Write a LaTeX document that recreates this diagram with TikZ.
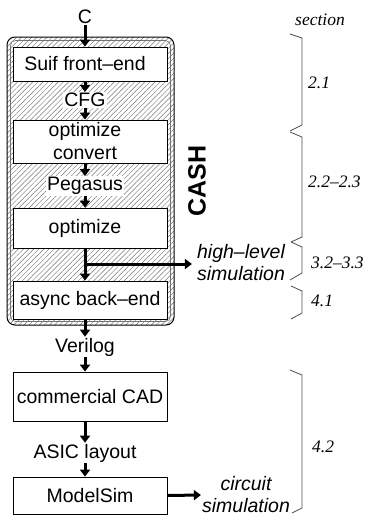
\documentclass[tikz,border=0pt]{standalone}
\usepackage{fontspec}
\setmainfont{Liberation Serif}
\setsansfont{Liberation Sans}
\usetikzlibrary{arrows.meta,patterns.meta}
\begin{document}
\begin{tikzpicture}[x=1pt,y=-1pt,
  box/.style={draw,line width=0.8pt,fill=white,minimum width=154pt,inner sep=0pt,font=\sffamily\fontsize{19.5}{23}\selectfont,align=center},
  lbl/.style={font=\sffamily\fontsize{19.5}{23}\selectfont,inner sep=1pt},
  wlbl/.style={lbl,fill=white},
  ilbl/.style={font=\sffamily\itshape\fontsize{19.5}{22}\selectfont,inner sep=1pt,align=center},
  arr/.style={line width=3pt,-{Triangle[width=10pt,length=7pt]}},
  sec/.style={font=\itshape\fontsize{17.5}{19}\selectfont,anchor=west,inner sep=0pt},
  brace/.style={line width=0.8pt,draw=black!70,line join=miter}
]
\useasboundingbox (0,0) rectangle (370,517);

% CASH enclosure
\node[draw,line width=1pt,rounded corners=8pt,minimum width=167pt,minimum height=288pt,inner sep=0pt,
      pattern={Lines[angle=45,distance=3.6pt,line width=0.45pt]},pattern color=black!55] (encl) at (90.5,181) {};
\draw[rounded corners=5pt,draw=black!55,line width=0.6pt] (10.5,40.5) rectangle (170.5,321.5);

% nodes
\node[lbl] (c) at (85,17) {C};
\node[box,minimum height=34pt] (suif) at (90,64) {\hspace*{-10pt}Suif front–end};
\node[wlbl] (cfg) at (85,100) {CFG};
\node[box,minimum height=43pt] (oc) at (90,141.5) {\hspace*{-10pt}optimize\\\hspace*{-10pt}convert};
\node[wlbl] (peg) at (85,186) {Pegasus};
\node[box,minimum height=40pt] (opt) at (90,228) {\hspace*{-10pt}optimize};
\node[box,minimum height=38pt] (async) at (90,300) {async back–end};
\node[lbl] (ver) at (85,347) {Verilog};
\node[box,minimum height=49pt] (cad) at (90,396.5) {commercial CAD};
\node[lbl] (asic) at (85,453) {ASIC layout};
\node[box,minimum height=37pt] (ms) at (90,495.5) {ModelSim};
\node[ilbl] (hl) at (241,263) {high–level\\simulation};
\node[ilbl] (cs) at (246,495) {circuit\\simulation};
\node[font=\sffamily\bfseries\fontsize{25}{25}\selectfont,rotate=90] (cash) at (197,181) {CASH};

% connectors
\draw[arr] (c.south) -- (c.south |- suif.north);
\draw[arr] (suif.south -| cfg) -- (cfg.north);
\draw[arr] (cfg.south) -- (cfg.south |- oc.north);
\draw[arr] (oc.south -| peg) -- (peg.north);
\draw[arr] (peg.south) -- (peg.south |- opt.north);
\draw[arr] (opt.south -| peg) -- (async.north -| peg);
\coordinate (br) at (85,264);
\draw[arr,shorten >=4pt] (br) -- (hl.west |- br);
\draw[arr] (async.south -| ver) -- (ver.north);
\draw[arr] (ver.south) -- (ver.south |- cad.north);
\draw[arr] (cad.south -| asic) -- (asic.north);
\draw[arr] (asic.south) -- (asic.south |- ms.north);
\draw[arr] (ms.east) -- (cs.west);

% section braces
\node[font=\itshape\fontsize{17.5}{19}\selectfont] (sect) at (320,20) {section};
\draw[brace] (290,34) -- (302,38) -- (302,125) -- (290,131);
\draw[brace] (290,132) -- (302,137) -- (302,237) -- (291,242);
\draw[brace] (291,242) -- (302,247) -- (302,273) -- (290,280);
\draw[brace] (291,286) -- (302,291) -- (302,313) -- (291,319);
\draw[brace] (290,370) -- (302,375) -- (302,508) -- (292,513);
\node[sec] (s1) at (308,83) {2.1};
\node[sec] (s2) at (308,182) {2.2–2.3};
\node[sec] (s3) at (311,263) {3.2–3.3};
\node[sec] (s4) at (311,301) {4.1};
\node[sec] (s5) at (312,447) {4.2};
\end{tikzpicture}
\end{document}
